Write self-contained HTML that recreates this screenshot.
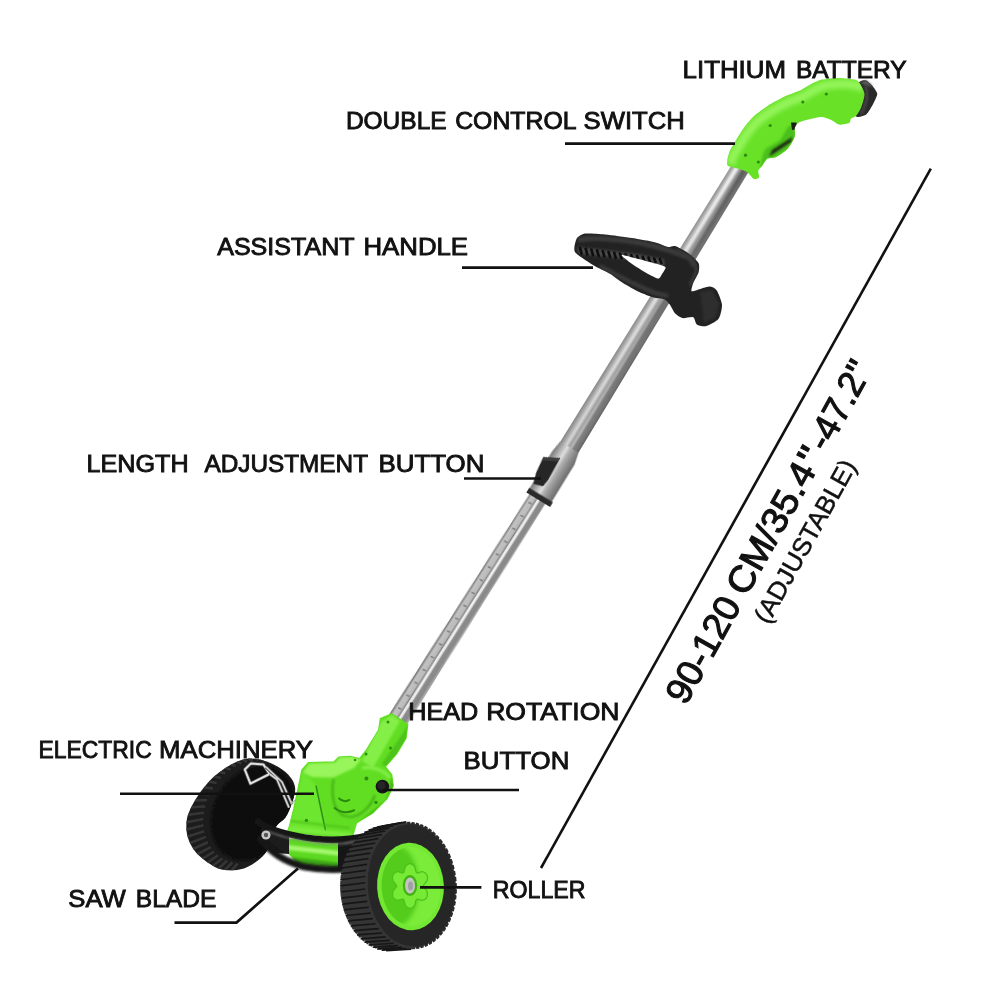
<!DOCTYPE html>
<html><head><meta charset="utf-8"><title>Grass trimmer parts</title>
<style>
html,body{margin:0;padding:0;background:#fff;}
body{width:1000px;height:1000px;overflow:hidden;}
svg{display:block;}
.lbl{font-family:"Liberation Sans","DejaVu Sans",sans-serif;font-size:24.5px;fill:#111;stroke:#111;stroke-width:0.9px;}
.big{font-family:"Liberation Sans","DejaVu Sans",sans-serif;font-size:36.5px;fill:#111;stroke:#111;stroke-width:1.1px;}
.adj{font-family:"Liberation Sans","DejaVu Sans",sans-serif;font-size:25.5px;fill:#111;stroke:#111;stroke-width:0.5px;}
.ln{stroke:#111;stroke-width:2.6;fill:none;}
</style></head>
<body>
<svg width="1000" height="1000" viewBox="0 0 1000 1000">
<defs>
<linearGradient id="steel" gradientUnits="objectBoundingBox" x1="0" y1="1" x2="0" y2="0">
<stop offset="0" stop-color="#858585"/><stop offset="0.12" stop-color="#9c9c9c"/><stop offset="0.34" stop-color="#d6d6d6"/><stop offset="0.48" stop-color="#a2a2a2"/><stop offset="0.6" stop-color="#b6b6b6"/><stop offset="0.7" stop-color="#828282"/><stop offset="0.9" stop-color="#727272"/><stop offset="1" stop-color="#5e5e5e"/>
</linearGradient>
<linearGradient id="steel2" gradientUnits="objectBoundingBox" x1="0" y1="1" x2="0" y2="0">
<stop offset="0" stop-color="#626262"/><stop offset="0.07" stop-color="#8e8e8e"/><stop offset="0.14" stop-color="#c2c2c2"/><stop offset="0.38" stop-color="#bababa"/><stop offset="0.45" stop-color="#7a7a7a"/><stop offset="0.51" stop-color="#f2f2f2"/><stop offset="0.59" stop-color="#ececec"/><stop offset="0.66" stop-color="#8c8c8c"/><stop offset="0.86" stop-color="#888"/><stop offset="0.95" stop-color="#a6a6a6"/><stop offset="1" stop-color="#808080"/>
</linearGradient>
<linearGradient id="steel3" gradientUnits="objectBoundingBox" x1="0" y1="1" x2="0" y2="0">
<stop offset="0" stop-color="#777"/><stop offset="0.2" stop-color="#a8a8a8"/><stop offset="0.42" stop-color="#dedede"/><stop offset="0.55" stop-color="#b0b0b0"/><stop offset="0.75" stop-color="#8e8e8e"/><stop offset="1" stop-color="#6a6a6a"/>
</linearGradient>
<linearGradient id="fade" gradientUnits="userSpaceOnUse" x1="0" y1="0" x2="300" y2="0"><stop offset="0" stop-color="#4e4e4e" stop-opacity="0.7"/><stop offset="0.5" stop-color="#4e4e4e" stop-opacity="0.3"/><stop offset="1" stop-color="#4e4e4e" stop-opacity="0"/></linearGradient>
<linearGradient id="fadew" gradientUnits="userSpaceOnUse" x1="0" y1="0" x2="300" y2="0"><stop offset="0" stop-color="#fff" stop-opacity="0.75"/><stop offset="0.5" stop-color="#fff" stop-opacity="0.3"/><stop offset="1" stop-color="#fff" stop-opacity="0"/></linearGradient>
<filter id="b1" x="-20%" y="-20%" width="140%" height="140%"><feGaussianBlur stdDeviation="1"/></filter>
<filter id="b2" x="-20%" y="-20%" width="140%" height="140%"><feGaussianBlur stdDeviation="2"/></filter>
<filter id="b3" x="-30%" y="-30%" width="160%" height="160%"><feGaussianBlur stdDeviation="3.5"/></filter>
<filter id="soft" x="-5%" y="-5%" width="110%" height="110%"><feGaussianBlur stdDeviation="0.45"/></filter>
</defs>
<rect width="1000" height="1000" fill="#fff"/>
<g id="product" filter="url(#soft)">

<g id="shaft" transform="translate(738.6,171) rotate(121.5)">
<polygon points="-6,-9 334,-10.7 334,10.7 -6,9" fill="url(#steel)"/>
<polygon points="-6,-6.5 300,-7.5 300,-1 -6,-1" fill="url(#fade)" filter="url(#b1)"/>
<polygon points="-6,1.5 300,1.5 300,5 -6,4.5" fill="url(#fadew)" filter="url(#b1)"/>
<g transform="rotate(0.9 380 0)">
<polygon points="378,-9.2 650,-10.4 650,9.8 378,9.2" fill="url(#steel2)"/>
<line x1="392.0" y1="2.2" x2="392.5" y2="5.8" stroke="#6e6e6e" stroke-width="1.2"/>
<line x1="407.2" y1="2.2" x2="407.7" y2="5.8" stroke="#6e6e6e" stroke-width="1.2"/>
<line x1="422.4" y1="2.2" x2="422.9" y2="5.8" stroke="#6e6e6e" stroke-width="1.2"/>
<line x1="437.6" y1="2.2" x2="438.1" y2="5.8" stroke="#6e6e6e" stroke-width="1.2"/>
<line x1="452.8" y1="2.2" x2="453.3" y2="5.8" stroke="#6e6e6e" stroke-width="1.2"/>
<line x1="468.0" y1="2.2" x2="468.5" y2="5.8" stroke="#6e6e6e" stroke-width="1.2"/>
<line x1="483.2" y1="2.2" x2="483.7" y2="5.8" stroke="#6e6e6e" stroke-width="1.2"/>
<line x1="498.4" y1="2.2" x2="498.9" y2="5.8" stroke="#6e6e6e" stroke-width="1.2"/>
<line x1="513.6" y1="2.2" x2="514.1" y2="5.8" stroke="#6e6e6e" stroke-width="1.2"/>
<line x1="528.8" y1="2.2" x2="529.3" y2="5.8" stroke="#6e6e6e" stroke-width="1.2"/>
<line x1="544.0" y1="2.2" x2="544.5" y2="5.8" stroke="#6e6e6e" stroke-width="1.2"/>
<line x1="559.2" y1="2.2" x2="559.7" y2="5.8" stroke="#6e6e6e" stroke-width="1.2"/>
<line x1="574.4" y1="2.2" x2="574.9" y2="5.8" stroke="#6e6e6e" stroke-width="1.2"/>
<line x1="589.6" y1="2.2" x2="590.1" y2="5.8" stroke="#6e6e6e" stroke-width="1.2"/>
<line x1="604.8" y1="2.2" x2="605.3" y2="5.8" stroke="#6e6e6e" stroke-width="1.2"/>
<line x1="620.0" y1="2.2" x2="620.5" y2="5.8" stroke="#6e6e6e" stroke-width="1.2"/>
<line x1="635.2" y1="2.2" x2="635.7" y2="5.8" stroke="#6e6e6e" stroke-width="1.2"/>
</g>
<polygon points="324,-10.7 336,-13.6 381,-13.6 381,12.4 336,12.4 324,10.7" fill="url(#steel3)"/>
<polygon points="379.5,-14.8 385,-14.8 385,13 379.5,13" fill="#2c2c2c"/>
<polygon points="346,17 338,2 363,1 371,2 374,11.5 363,15" fill="#262626"/>
<polygon points="346,17 338,2 342,2 349,15.5" fill="#3c3c3c"/>
</g>
<g id="backwheel">
<path d="M186.4,823.6 C186.7,819.1 187.2,816.1 189.6,810.8 C192.0,805.5 196.5,797.5 200.8,791.6 C205.1,785.7 210.1,780.1 215.2,775.6 C220.3,771.1 225.9,767.2 231.2,764.4 C236.5,761.6 241.9,759.5 247.2,758.8 C252.5,758.1 257.9,758.9 263.2,760.4 C268.5,761.9 274.7,764.8 279.2,767.6 C283.7,770.4 287.7,773.7 290.4,777.2 C293.1,780.7 294.9,784.1 295.2,788.4 C295.5,792.7 293.6,798.0 292.0,802.8 C290.4,807.6 288.3,813.2 285.6,817.2 C282.9,821.2 278.7,822.0 276.0,826.8 C273.3,831.6 272.3,840.7 269.6,846.0 C266.9,851.3 264.3,855.1 260.0,858.8 C255.7,862.5 249.9,866.5 244.0,868.4 C238.1,870.3 230.1,870.5 224.8,870.0 C219.5,869.5 216.8,868.1 212.0,865.2 C207.2,862.3 200.0,856.9 196.0,852.4 C192.0,847.9 189.6,842.8 188.0,838.0 C186.4,833.2 186.1,828.1 186.4,823.6 Z" fill="#1b1b1b"/>
<clipPath id="bwclip"><path d="M186.4,823.6 C186.7,819.1 187.2,816.1 189.6,810.8 C192.0,805.5 196.5,797.5 200.8,791.6 C205.1,785.7 210.1,780.1 215.2,775.6 C220.3,771.1 225.9,767.2 231.2,764.4 C236.5,761.6 241.9,759.5 247.2,758.8 C252.5,758.1 257.9,758.9 263.2,760.4 C268.5,761.9 274.7,764.8 279.2,767.6 C283.7,770.4 287.7,773.7 290.4,777.2 C293.1,780.7 294.9,784.1 295.2,788.4 C295.5,792.7 293.6,798.0 292.0,802.8 C290.4,807.6 288.3,813.2 285.6,817.2 C282.9,821.2 278.7,822.0 276.0,826.8 C273.3,831.6 272.3,840.7 269.6,846.0 C266.9,851.3 264.3,855.1 260.0,858.8 C255.7,862.5 249.9,866.5 244.0,868.4 C238.1,870.3 230.1,870.5 224.8,870.0 C219.5,869.5 216.8,868.1 212.0,865.2 C207.2,862.3 200.0,856.9 196.0,852.4 C192.0,847.9 189.6,842.8 188.0,838.0 C186.4,833.2 186.1,828.1 186.4,823.6 Z"/></clipPath>
<g clip-path="url(#bwclip)">
<line x1="223.6" y1="879.3" x2="237.7" y2="863.5" stroke="#363636" stroke-width="2.6"/>
<line x1="216.8" y1="878.0" x2="232.3" y2="862.5" stroke="#363636" stroke-width="2.6"/>
<line x1="210.3" y1="875.8" x2="227.1" y2="860.8" stroke="#363636" stroke-width="2.6"/>
<line x1="204.2" y1="872.7" x2="222.3" y2="858.4" stroke="#363636" stroke-width="2.6"/>
<line x1="198.6" y1="868.7" x2="218.0" y2="855.2" stroke="#363636" stroke-width="2.6"/>
<line x1="193.6" y1="864.0" x2="214.1" y2="851.5" stroke="#363636" stroke-width="2.6"/>
<line x1="189.2" y1="858.5" x2="210.7" y2="847.1" stroke="#363636" stroke-width="2.6"/>
<line x1="185.6" y1="852.4" x2="207.9" y2="842.2" stroke="#363636" stroke-width="2.6"/>
<line x1="182.8" y1="845.8" x2="205.8" y2="836.9" stroke="#363636" stroke-width="2.6"/>
<line x1="180.8" y1="838.7" x2="204.3" y2="831.2" stroke="#363636" stroke-width="2.6"/>
<line x1="179.6" y1="831.3" x2="203.5" y2="825.2" stroke="#363636" stroke-width="2.6"/>
<line x1="179.4" y1="823.6" x2="203.3" y2="819.0" stroke="#363636" stroke-width="2.6"/>
<line x1="179.9" y1="815.9" x2="203.9" y2="812.7" stroke="#363636" stroke-width="2.6"/>
<line x1="181.4" y1="808.1" x2="205.2" y2="806.4" stroke="#363636" stroke-width="2.6"/>
<line x1="183.7" y1="800.5" x2="207.1" y2="800.2" stroke="#363636" stroke-width="2.6"/>
<line x1="186.8" y1="793.1" x2="209.7" y2="794.2" stroke="#363636" stroke-width="2.6"/>
<line x1="190.7" y1="786.0" x2="212.9" y2="788.4" stroke="#363636" stroke-width="2.6"/>
<line x1="195.3" y1="779.4" x2="216.6" y2="783.0" stroke="#363636" stroke-width="2.6"/>
<line x1="200.5" y1="773.3" x2="220.8" y2="778.0" stroke="#363636" stroke-width="2.6"/>
<line x1="206.3" y1="767.9" x2="225.5" y2="773.5" stroke="#363636" stroke-width="2.6"/>
<line x1="212.5" y1="763.2" x2="230.5" y2="769.6" stroke="#363636" stroke-width="2.6"/>
<line x1="219.1" y1="759.2" x2="235.8" y2="766.3" stroke="#363636" stroke-width="2.6"/>
<line x1="226.0" y1="756.2" x2="241.3" y2="763.7" stroke="#363636" stroke-width="2.6"/>
<line x1="233.1" y1="754.0" x2="247.0" y2="761.8" stroke="#363636" stroke-width="2.6"/>
<line x1="240.3" y1="752.7" x2="252.7" y2="760.7" stroke="#363636" stroke-width="2.6"/>
<line x1="247.4" y1="752.4" x2="258.4" y2="760.3" stroke="#363636" stroke-width="2.6"/>
<line x1="254.4" y1="753.0" x2="263.9" y2="760.7" stroke="#363636" stroke-width="2.6"/>
<line x1="261.1" y1="754.5" x2="269.2" y2="761.9" stroke="#363636" stroke-width="2.6"/>
<line x1="267.5" y1="757.0" x2="274.3" y2="763.8" stroke="#363636" stroke-width="2.6"/>
<line x1="273.5" y1="760.4" x2="279.0" y2="766.5" stroke="#363636" stroke-width="2.6"/>
<ellipse cx="253" cy="813" rx="39" ry="50" transform="rotate(30 253 813)" fill="#0b0b0b" filter="url(#b1)"/>
</g>
<path d="M244.8,769.5 L250.4,783.6 L269.6,774 L263.5,764.6 L251,763.4 Z" fill="none" stroke="#4a4a4a" stroke-width="3.6" stroke-linejoin="round"/>
<path d="M244.8,769.5 L250.4,783.6 L269.6,774 L263.5,764.6 L251,763.4 Z" fill="none" stroke="#e2e2e2" stroke-width="2" stroke-linejoin="round"/>
<path d="M269.6,774 L277,779.5 L289,807.6 M266,767 L282,782 L292,804.4" fill="none" stroke="#4a4a4a" stroke-width="3.2" stroke-linejoin="round"/>
<path d="M269.6,774 L277,779.5 L289,807.6 M266,767 L282,782 L292,804.4" fill="none" stroke="#d4d4d4" stroke-width="1.7" stroke-linejoin="round"/>
<path d="M291,803.5 L314,785.5" fill="none" stroke="#a9b49a" stroke-width="1.4"/>
</g>
<g id="head">
<clipPath id="headclip"><path d="M380.4,718.8 L391.6,714.0 L407.6,724.4 L406.0,738.0 L396.4,754.0 L385.2,766.8 L391.6,774.8 L393.2,786.0 L386.8,798.8 L372.4,813.2 L356.4,822.8 L352.4,836.4 L326.0,836.0 L287.6,831.6 L289.2,827.6 L294.0,808.4 L298.8,786.0 L302.0,770.0 L308.4,762.8 L334.0,762.0 L338.8,757.2 L350.0,756.4 L359.6,758.8 L366.0,750.8 L378.8,730.0 Z"/></clipPath>
<path d="M380.4,718.8 L391.6,714.0 L407.6,724.4 L406.0,738.0 L396.4,754.0 L385.2,766.8 L391.6,774.8 L393.2,786.0 L386.8,798.8 L372.4,813.2 L356.4,822.8 L352.4,836.4 L326.0,836.0 L287.6,831.6 L289.2,827.6 L294.0,808.4 L298.8,786.0 L302.0,770.0 L308.4,762.8 L334.0,762.0 L338.8,757.2 L350.0,756.4 L359.6,758.8 L366.0,750.8 L378.8,730.0 Z" fill="#62de24" stroke="#62de24" stroke-width="1.5" stroke-linejoin="round"/>
<g clip-path="url(#headclip)">
<path d="M303,772 L316,785 L326,832 L288,828 Z" fill="#6ce62e" filter="url(#b1)"/>
<path d="M303,772.5 L309,763.4 L335,762.8 L340,757.5 L352,756.5 L361,759.5 L354,768 L333,777.5 L312,777 Z" fill="#98f65c" filter="url(#b1)"/>
<path d="M381,722 L392,715 L400,721 L373,768 L362,761 Z" fill="#84ef46" filter="url(#b1)"/>
<path d="M408.5,724.4 L407,738 L397.4,754 L386.2,766.8 L381.5,764 L401,736 Z" fill="#4dc31a" filter="url(#b1)"/>
<path d="M356,824 L373,814 L388,799.5 L394.5,786 L392.5,775 L386,800 L366,816 Z" fill="#46b716" filter="url(#b1)"/>
<path d="M362,768 C372,766 384,770 390,778" fill="none" stroke="#86ef4a" stroke-width="3" filter="url(#b1)"/>
<path d="M333.5,779 C330,800 336,817 350,817 C362,816 371,806 375,795" fill="none" stroke="#43b018" stroke-width="2.2" filter="url(#b1)"/>
<path d="M338.5,798 Q344,803.5 350,799.5" fill="none" stroke="#2b8a0e" stroke-width="2"/>
<path d="M334,807.5 Q344,815.5 354.8,810" fill="none" stroke="#2b8a0e" stroke-width="2"/>
<path d="M316,785.6 L325.6,831" fill="none" stroke="#2f8d12" stroke-width="1.5"/>
<path d="M287,826 L352,833 L352,837 L287,831.5 Z" fill="#7aec3c" filter="url(#b1)"/>
<path d="M290,821 L350,828" fill="none" stroke="#49bb1a" stroke-width="1.6" filter="url(#b1)"/>
</g>
<circle cx="382.4" cy="786.6" r="6.8" fill="#161616"/>
<circle cx="381.4" cy="785.6" r="4" fill="#262626"/>
<circle cx="388.0" cy="722.0" r="1.5" fill="#2f8f10"/>
<circle cx="390.5" cy="748.0" r="1.5" fill="#2f8f10"/>
<circle cx="366.0" cy="754.0" r="1.5" fill="#2f8f10"/>
<circle cx="306.4" cy="820.4" r="1.7" fill="#2f8f10"/>
<circle cx="366.4" cy="778.4" r="2.0" fill="#2f8f10"/>
<circle cx="376.0" cy="802.4" r="1.7" fill="#2f8f10"/>
<circle cx="355.0" cy="760.0" r="1.3" fill="#2f8f10"/>
</g>
<g id="bracket">
<path d="M286,838 L342,843 L342,868 L300,864 L287,853 Z" fill="#5bd820"/>
<path d="M288,845 L341,851 L341,856 L288,850 Z" fill="#a4f76e" filter="url(#b1)"/>
<path d="M290,857 L341,863 L341,869 L298,865 Z" fill="#3aa012" filter="url(#b1)"/>
<path d="M262,826 L289,836 L289,854 L275,853 L259,842 Z" fill="#1a1a1a"/>
<path d="M338,840 L368,835 L362,850 L350,868 L338,871 Z" fill="#181818"/>
<path d="M258,821.5 C270,831 290,835.5 314,838.8 C330,840.8 348,840.3 368,835.5" fill="none" stroke="#161616" stroke-width="6.6" stroke-linecap="round"/>
<path d="M268,831 C280,837 296,840 316,843 C332,845 346,844 358,841" fill="none" stroke="#8a8a8a" stroke-width="1.3" filter="url(#b1)"/>
<path d="M261,839 C270,852 286,862 304,866.8 C318,869.5 334,870.5 350,868.5" fill="none" stroke="#161616" stroke-width="7" stroke-linecap="round" filter="url(#b1)"/>
<circle cx="266" cy="835" r="4.6" fill="#c9c9c9"/><circle cx="266" cy="835" r="2.2" fill="#555"/>
</g>
<g id="frontwheel">
<path d="M455.4,882.4 L456.8,883.3 L456.9,887.2 L455.6,887.8 L455.6,888.5 L456.9,889.6 L456.8,893.4 L455.4,893.9 L455.4,894.5 L456.6,895.8 L456.2,899.6 L454.8,899.8 L454.8,900.5 L455.9,901.9 L455.2,905.6 L453.8,905.7 L453.7,906.3 L454.7,907.8 L453.8,911.4 L452.4,911.3 L452.2,911.9 L453.1,913.6 L451.9,917.0 L450.6,916.7 L450.3,917.3 L451.1,919.1 L449.7,922.3 L448.3,921.8 L448.1,922.3 L448.7,924.2 L447.1,927.2 L445.8,926.5 L445.5,927.0 L446.0,929.0 L444.1,931.7 L442.9,930.9 L442.5,931.4 L442.9,933.3 L440.8,935.8 L439.6,934.8 L439.3,935.2 L439.5,937.2 L437.3,939.4 L436.2,938.2 L435.7,938.6 L435.9,940.6 L433.5,942.5 L432.4,941.2 L432.0,941.5 L432.0,943.5 L429.4,945.0 L428.5,943.6 L428.0,943.8 L427.9,945.8 L425.2,947.0 L424.4,945.4 L423.9,945.6 L423.6,947.5 L420.9,948.3 L420.1,946.7 L419.7,946.8 L419.2,948.7 L416.4,949.1 L415.8,947.3 L415.3,947.4 L414.7,949.2 L411.9,949.2 L411.4,947.4 L411.0,947.4 L410.2,949.1 L407.4,948.7 L407.1,946.9 L406.6,946.8 L405.7,948.4 L403.0,947.6 L402.7,945.8 L402.2,945.6 L401.3,947.1 L398.6,946.0 L398.5,944.1 L398.0,943.8 L396.9,945.2 L394.3,943.7 L394.3,941.8 L393.9,941.5 L392.7,942.7 L390.2,940.9 L390.4,939.0 L389.9,938.7 L388.7,939.7 L386.3,937.5 L386.6,935.7 L386.2,935.3 L384.9,936.1 L382.6,933.7 L383.0,931.9 L382.7,931.4 L381.3,932.1 L379.2,929.3 L379.8,927.6 L379.4,927.1 L378.0,927.6 L376.1,924.6 L376.8,923.0 L376.5,922.5 L375.0,922.7 L373.4,919.5 L374.1,918.0 L373.9,917.4 L372.4,917.5 L371.0,914.0 L371.9,912.7 L371.6,912.0 L370.2,911.9 L369.0,908.3 L369.9,907.1 L369.8,906.4 L368.3,906.1 L367.4,902.4 L368.4,901.3 L368.3,900.6 L366.9,900.1 L366.2,896.3 L367.3,895.3 L367.2,894.7 L365.8,893.9 L365.4,890.1 L366.6,889.3 L366.6,888.6 L365.2,887.7 L365.1,883.8 L366.4,883.2 L366.4,882.5 L365.1,881.4 L365.2,877.6 L366.6,877.1 L366.6,876.5 L365.4,875.2 L365.8,871.4 L367.2,871.2 L367.2,870.5 L366.1,869.1 L366.8,865.4 L368.2,865.3 L368.3,864.7 L367.3,863.2 L368.2,859.6 L369.6,859.7 L369.8,859.1 L368.9,857.4 L370.1,854.0 L371.4,854.3 L371.7,853.7 L370.9,851.9 L372.3,848.7 L373.7,849.2 L373.9,848.7 L373.3,846.8 L374.9,843.8 L376.2,844.5 L376.5,844.0 L376.0,842.0 L377.9,839.3 L379.1,840.1 L379.5,839.6 L379.1,837.7 L381.2,835.2 L382.4,836.2 L382.7,835.8 L382.5,833.8 L384.7,831.6 L385.8,832.8 L386.3,832.4 L386.1,830.4 L388.5,828.5 L389.6,829.8 L390.0,829.5 L390.0,827.5 L392.6,826.0 L393.5,827.4 L394.0,827.2 L394.1,825.2 L396.8,824.0 L397.6,825.6 L398.1,825.4 L398.4,823.5 L401.1,822.7 L401.9,824.3 L402.3,824.2 L402.8,822.3 L405.6,821.9 L406.2,823.7 L406.7,823.6 L407.3,821.8 L410.1,821.8 L410.6,823.6 L411.0,823.6 L411.8,821.9 L414.6,822.3 L414.9,824.1 L415.4,824.2 L416.3,822.6 L419.0,823.4 L419.3,825.2 L419.8,825.4 L420.7,823.9 L423.4,825.0 L423.5,826.9 L424.0,827.2 L425.1,825.8 L427.7,827.3 L427.7,829.2 L428.1,829.5 L429.3,828.3 L431.8,830.1 L431.6,832.0 L432.1,832.3 L433.3,831.3 L435.7,833.5 L435.4,835.3 L435.8,835.7 L437.1,834.9 L439.4,837.3 L439.0,839.1 L439.3,839.6 L440.7,838.9 L442.8,841.7 L442.2,843.4 L442.6,843.9 L444.0,843.4 L445.9,846.4 L445.2,848.0 L445.5,848.5 L447.0,848.3 L448.6,851.5 L447.9,853.0 L448.1,853.6 L449.6,853.5 L451.0,857.0 L450.1,858.3 L450.4,859.0 L451.8,859.1 L453.0,862.7 L452.1,863.9 L452.2,864.6 L453.7,864.9 L454.6,868.6 L453.6,869.7 L453.7,870.4 L455.1,870.9 L455.8,874.7 L454.7,875.7 L454.8,876.3 L456.2,877.1 L456.6,880.9 L455.4,881.7 Z" fill="#2c2c2c"/>
<path d="M430.4,885.4 L431.8,886.3 L431.9,890.1 L430.6,890.7 L430.6,891.3 L431.9,892.4 L431.7,896.2 L430.4,896.6 L430.4,897.2 L431.6,898.5 L431.2,902.2 L429.8,902.4 L429.7,903.1 L430.8,904.4 L430.2,908.1 L428.8,908.1 L428.6,908.7 L429.7,910.2 L428.7,913.8 L427.3,913.6 L427.2,914.2 L428.1,915.9 L426.9,919.2 L425.5,918.9 L425.3,919.5 L426.1,921.2 L424.6,924.4 L423.3,923.9 L423.0,924.4 L423.7,926.2 L422.0,929.2 L420.7,928.5 L420.4,929.0 L420.9,930.9 L419.0,933.6 L417.8,932.8 L417.4,933.2 L417.8,935.2 L415.8,937.6 L414.6,936.6 L414.2,937.0 L414.4,939.0 L412.2,941.1 L411.1,940.0 L410.7,940.3 L410.8,942.3 L408.4,944.1 L407.3,942.8 L406.9,943.1 L406.9,945.1 L404.3,946.6 L403.4,945.2 L402.9,945.4 L402.8,947.4 L400.1,948.5 L399.3,947.0 L398.8,947.1 L398.5,949.1 L395.8,949.8 L395.0,948.2 L394.6,948.3 L394.1,950.2 L391.3,950.6 L390.7,948.9 L390.2,948.9 L389.6,950.7 L386.8,950.7 L386.3,948.9 L385.9,948.9 L385.1,950.6 L382.3,950.3 L382.0,948.4 L381.5,948.4 L380.6,949.9 L377.9,949.2 L377.6,947.4 L377.2,947.2 L376.2,948.7 L373.5,947.6 L373.4,945.7 L372.9,945.5 L371.8,946.8 L369.2,945.4 L369.2,943.5 L368.8,943.2 L367.6,944.4 L365.1,942.6 L365.3,940.8 L364.8,940.5 L363.6,941.4 L361.2,939.3 L361.5,937.6 L361.1,937.2 L359.8,938.0 L357.5,935.6 L358.0,933.9 L357.6,933.4 L356.2,934.0 L354.1,931.4 L354.7,929.7 L354.4,929.2 L352.9,929.7 L351.1,926.7 L351.7,925.2 L351.4,924.6 L350.0,924.9 L348.3,921.7 L349.1,920.3 L348.8,919.7 L347.4,919.8 L345.9,916.4 L346.8,915.1 L346.6,914.5 L345.1,914.3 L343.9,910.8 L344.9,909.6 L344.7,909.0 L343.3,908.7 L342.3,905.0 L343.4,904.0 L343.3,903.3 L341.8,902.8 L341.2,899.1 L342.3,898.2 L342.2,897.5 L340.8,896.8 L340.4,893.0 L341.6,892.3 L341.6,891.6 L340.2,890.7 L340.1,886.9 L341.4,886.3 L341.4,885.7 L340.1,884.6 L340.3,880.8 L341.6,880.4 L341.6,879.8 L340.4,878.5 L340.8,874.8 L342.2,874.6 L342.3,873.9 L341.2,872.6 L341.8,868.9 L343.2,868.9 L343.4,868.3 L342.3,866.8 L343.3,863.2 L344.7,863.4 L344.8,862.8 L343.9,861.1 L345.1,857.8 L346.5,858.1 L346.7,857.5 L345.9,855.8 L347.4,852.6 L348.7,853.1 L349.0,852.6 L348.3,850.8 L350.0,847.8 L351.3,848.5 L351.6,848.0 L351.1,846.1 L353.0,843.4 L354.2,844.2 L354.6,843.8 L354.2,841.8 L356.2,839.4 L357.4,840.4 L357.8,840.0 L357.6,838.0 L359.8,835.9 L360.9,837.0 L361.3,836.7 L361.2,834.7 L363.6,832.9 L364.7,834.2 L365.1,833.9 L365.1,831.9 L367.7,830.4 L368.6,831.8 L369.1,831.6 L369.2,829.6 L371.9,828.5 L372.7,830.0 L373.2,829.9 L373.5,827.9 L376.2,827.2 L377.0,828.8 L377.4,828.7 L377.9,826.8 L380.7,826.4 L381.3,828.1 L381.8,828.1 L382.4,826.3 L385.2,826.3 L385.7,828.1 L386.1,828.1 L386.9,826.4 L389.7,826.7 L390.0,828.6 L390.5,828.6 L391.4,827.1 L394.1,827.8 L394.4,829.6 L394.8,829.8 L395.8,828.3 L398.5,829.4 L398.6,831.3 L399.1,831.5 L400.2,830.2 L402.8,831.6 L402.8,833.5 L403.2,833.8 L404.4,832.6 L406.9,834.4 L406.7,836.2 L407.2,836.5 L408.4,835.6 L410.8,837.7 L410.5,839.4 L410.9,839.8 L412.2,839.0 L414.5,841.4 L414.0,843.1 L414.4,843.6 L415.8,843.0 L417.9,845.6 L417.3,847.3 L417.6,847.8 L419.1,847.3 L420.9,850.3 L420.3,851.8 L420.6,852.4 L422.0,852.1 L423.7,855.3 L422.9,856.7 L423.2,857.3 L424.6,857.2 L426.1,860.6 L425.2,861.9 L425.4,862.5 L426.9,862.7 L428.1,866.2 L427.1,867.4 L427.3,868.0 L428.7,868.3 L429.7,872.0 L428.6,873.0 L428.7,873.7 L430.2,874.2 L430.8,877.9 L429.7,878.8 L429.8,879.5 L431.2,880.2 L431.6,884.0 L430.4,884.7 Z" fill="#343434"/>
<path d="M406.6,822.2 L381.7,826.7 L390.3,950.3 L415.4,948.8 Z" fill="#343434"/>
<line x1="386.1" y1="950.7" x2="411.2" y2="949.2" stroke="#171717" stroke-width="1.6"/>
<line x1="381.6" y1="950.1" x2="406.7" y2="948.6" stroke="#171717" stroke-width="1.6"/>
<line x1="377.1" y1="949.0" x2="402.2" y2="947.4" stroke="#171717" stroke-width="1.6"/>
<line x1="372.8" y1="947.2" x2="397.9" y2="945.6" stroke="#171717" stroke-width="1.6"/>
<line x1="368.5" y1="945.0" x2="393.6" y2="943.3" stroke="#171717" stroke-width="1.6"/>
<line x1="364.4" y1="942.1" x2="389.5" y2="940.4" stroke="#171717" stroke-width="1.6"/>
<line x1="360.6" y1="938.8" x2="385.7" y2="936.9" stroke="#171717" stroke-width="1.6"/>
<line x1="357.0" y1="934.9" x2="382.0" y2="933.0" stroke="#171717" stroke-width="1.6"/>
<line x1="353.6" y1="930.6" x2="378.7" y2="928.6" stroke="#171717" stroke-width="1.6"/>
<line x1="350.6" y1="925.9" x2="375.6" y2="923.8" stroke="#171717" stroke-width="1.6"/>
<line x1="347.9" y1="920.9" x2="372.9" y2="918.6" stroke="#171717" stroke-width="1.6"/>
<line x1="345.6" y1="915.5" x2="370.6" y2="913.1" stroke="#171717" stroke-width="1.6"/>
<line x1="343.6" y1="909.9" x2="368.7" y2="907.3" stroke="#171717" stroke-width="1.6"/>
<line x1="342.1" y1="904.1" x2="367.1" y2="901.4" stroke="#171717" stroke-width="1.6"/>
<line x1="341.0" y1="898.1" x2="366.0" y2="895.2" stroke="#171717" stroke-width="1.6"/>
<line x1="340.3" y1="892.0" x2="365.3" y2="889.0" stroke="#171717" stroke-width="1.6"/>
<line x1="340.1" y1="885.9" x2="365.1" y2="882.8" stroke="#171717" stroke-width="1.6"/>
<line x1="340.3" y1="879.8" x2="365.3" y2="876.5" stroke="#171717" stroke-width="1.6"/>
<line x1="341.0" y1="873.8" x2="365.9" y2="870.4" stroke="#171717" stroke-width="1.6"/>
<line x1="342.1" y1="868.0" x2="367.0" y2="864.4" stroke="#171717" stroke-width="1.6"/>
<line x1="343.6" y1="862.3" x2="368.5" y2="858.6" stroke="#171717" stroke-width="1.6"/>
<line x1="345.5" y1="856.9" x2="370.4" y2="853.1" stroke="#171717" stroke-width="1.6"/>
<line x1="347.8" y1="851.8" x2="372.7" y2="847.9" stroke="#171717" stroke-width="1.6"/>
<line x1="350.5" y1="847.1" x2="375.4" y2="843.0" stroke="#171717" stroke-width="1.6"/>
<line x1="353.5" y1="842.7" x2="378.4" y2="838.6" stroke="#171717" stroke-width="1.6"/>
<line x1="356.8" y1="838.8" x2="381.7" y2="834.6" stroke="#171717" stroke-width="1.6"/>
<line x1="360.4" y1="835.4" x2="385.3" y2="831.0" stroke="#171717" stroke-width="1.6"/>
<line x1="364.3" y1="832.4" x2="389.2" y2="828.1" stroke="#171717" stroke-width="1.6"/>
<line x1="368.4" y1="830.1" x2="393.3" y2="825.6" stroke="#171717" stroke-width="1.6"/>
<line x1="372.6" y1="828.2" x2="397.5" y2="823.8" stroke="#171717" stroke-width="1.6"/>
<line x1="377.0" y1="827.0" x2="401.9" y2="822.5" stroke="#171717" stroke-width="1.6"/>
<line x1="381.4" y1="826.4" x2="406.3" y2="821.9" stroke="#171717" stroke-width="1.6"/>
<ellipse cx="411" cy="885.5" rx="43.2" ry="61" transform="rotate(-4 411 885.5)" fill="#272727"/>
<ellipse cx="410.5" cy="886.5" rx="33.4" ry="43.8" transform="rotate(-3 410.5 886.5)" fill="#72e830"/>
<clipPath id="hubclip"><ellipse cx="411" cy="886.5" rx="29.5" ry="39.5" transform="rotate(-3 411 886.5)"/></clipPath>
<ellipse cx="411" cy="886.5" rx="29.5" ry="39.5" transform="rotate(-3 411 886.5)" fill="#7bec3a"/>
<g clip-path="url(#hubclip)">
<ellipse cx="397" cy="886" rx="22" ry="40" fill="#52cc1e" filter="url(#b2)"/>
</g>
<path d="M410.0,863.5 C411.5,863.5 413.4,864.9 414.5,866.4 C415.6,868.0 415.3,871.9 416.6,872.7 C417.9,873.6 420.7,871.3 422.4,871.7 C424.1,872.0 426.1,873.2 426.9,874.8 C427.6,876.3 427.6,878.9 427.0,880.8 C426.3,882.6 423.3,884.3 423.3,886.0 C423.3,887.7 426.3,889.4 427.0,891.2 C427.6,893.1 427.6,895.7 426.9,897.2 C426.1,898.8 424.1,900.0 422.4,900.3 C420.7,900.7 417.9,898.4 416.6,899.3 C415.3,900.1 415.6,904.0 414.5,905.6 C413.4,907.1 411.5,908.5 410.0,908.5 C408.5,908.5 406.6,907.1 405.5,905.6 C404.4,904.0 404.7,900.1 403.4,899.3 C402.1,898.4 399.3,900.7 397.6,900.3 C395.9,900.0 393.9,898.8 393.1,897.2 C392.4,895.7 392.4,893.1 393.0,891.2 C393.7,889.4 396.7,887.7 396.7,886.0 C396.7,884.3 393.7,882.6 393.0,880.8 C392.4,878.9 392.4,876.3 393.1,874.8 C393.9,873.2 395.9,872.0 397.6,871.7 C399.3,871.3 402.1,873.6 403.4,872.7 C404.7,871.9 404.4,868.0 405.5,866.4 C406.6,864.9 408.5,863.5 410.0,863.5 Z" fill="#76ea36" stroke="#4cc21a" stroke-width="1.3" stroke-linejoin="round"/>
<ellipse cx="410" cy="885.5" rx="7.2" ry="10.5" fill="#44b016"/>
<ellipse cx="410" cy="885.5" rx="5" ry="8" fill="#c4c4c4"/>
<ellipse cx="410.5" cy="886" rx="2.5" ry="4.5" fill="#a0a0a0"/>
</g>
<g id="aux">
<clipPath id="auxclip"><path d="M574.4,247.0 C574.6,245.3 575.8,239.6 577.1,238.0 C578.4,236.4 581.9,233.9 585.2,233.5 C588.5,233.1 599.5,233.9 605.0,234.4 C610.5,234.9 626.1,237.1 632.0,238.0 C637.9,238.9 651.2,241.4 655.4,242.5 C659.6,243.6 665.7,246.6 668.0,247.0 C670.3,247.4 672.7,245.3 675.2,246.1 C677.7,246.9 686.9,252.2 689.6,254.2 C692.3,256.2 697.6,261.1 698.6,263.2 C699.6,265.3 699.2,269.9 698.6,272.2 C698.0,274.5 694.0,280.8 693.2,283.0 C692.4,285.2 691.0,290.2 691.4,291.0 C691.8,291.8 694.7,290.7 696.8,290.2 C698.9,289.7 707.1,286.6 709.4,286.6 C711.7,286.6 715.1,288.1 716.6,290.2 C718.1,292.3 721.8,301.2 722.0,304.6 C722.2,308.0 720.3,316.5 718.4,319.0 C716.5,321.5 708.3,325.6 705.8,326.2 C703.3,326.8 698.3,325.4 696.8,324.4 C695.3,323.3 694.9,317.9 693.2,317.2 C691.5,316.5 684.5,318.5 682.4,318.1 C680.3,317.7 676.7,315.2 675.2,313.6 C673.7,312.0 671.1,306.3 669.8,304.6 C668.5,302.9 666.3,300.0 664.4,299.2 C662.5,298.4 656.5,298.2 653.6,297.4 C650.7,296.6 642.8,293.7 639.2,292.0 C635.6,290.3 626.4,285.1 623.0,283.0 C619.6,280.9 613.5,275.9 610.4,274.0 C607.2,272.1 599.1,268.6 596.0,266.8 C592.9,265.0 585.8,260.4 583.4,258.7 C581.0,257.0 576.3,253.8 575.3,252.4 C574.2,251.0 574.2,248.7 574.4,247.0 Z"/></clipPath>
<path d="M574.4,247.0 C574.6,245.3 575.8,239.6 577.1,238.0 C578.4,236.4 581.9,233.9 585.2,233.5 C588.5,233.1 599.5,233.9 605.0,234.4 C610.5,234.9 626.1,237.1 632.0,238.0 C637.9,238.9 651.2,241.4 655.4,242.5 C659.6,243.6 665.7,246.6 668.0,247.0 C670.3,247.4 672.7,245.3 675.2,246.1 C677.7,246.9 686.9,252.2 689.6,254.2 C692.3,256.2 697.6,261.1 698.6,263.2 C699.6,265.3 699.2,269.9 698.6,272.2 C698.0,274.5 694.0,280.8 693.2,283.0 C692.4,285.2 691.0,290.2 691.4,291.0 C691.8,291.8 694.7,290.7 696.8,290.2 C698.9,289.7 707.1,286.6 709.4,286.6 C711.7,286.6 715.1,288.1 716.6,290.2 C718.1,292.3 721.8,301.2 722.0,304.6 C722.2,308.0 720.3,316.5 718.4,319.0 C716.5,321.5 708.3,325.6 705.8,326.2 C703.3,326.8 698.3,325.4 696.8,324.4 C695.3,323.3 694.9,317.9 693.2,317.2 C691.5,316.5 684.5,318.5 682.4,318.1 C680.3,317.7 676.7,315.2 675.2,313.6 C673.7,312.0 671.1,306.3 669.8,304.6 C668.5,302.9 666.3,300.0 664.4,299.2 C662.5,298.4 656.5,298.2 653.6,297.4 C650.7,296.6 642.8,293.7 639.2,292.0 C635.6,290.3 626.4,285.1 623.0,283.0 C619.6,280.9 613.5,275.9 610.4,274.0 C607.2,272.1 599.1,268.6 596.0,266.8 C592.9,265.0 585.8,260.4 583.4,258.7 C581.0,257.0 576.3,253.8 575.3,252.4 C574.2,251.0 574.2,248.7 574.4,247.0 Z" fill="#232323"/>
<g clip-path="url(#auxclip)">
<path d="M578,240 C600,236 640,241 668,250 L690,258 L694,266" fill="none" stroke="#3b3b3b" stroke-width="5" filter="url(#b1)"/>
<path d="M577,247 L600,249.5 L640,254.5 L664,259.5 L664,266 L640,261 L600,256 L579,254 Z" fill="#4a4a4a" filter="url(#b1)"/>
<line x1="580.0" y1="247.9" x2="581.6" y2="253.9" stroke="#0e0e0e" stroke-width="2.6" stroke-linecap="round"/>
<line x1="585.7" y1="248.7" x2="587.3" y2="254.6" stroke="#0e0e0e" stroke-width="2.6" stroke-linecap="round"/>
<line x1="591.4" y1="249.5" x2="593.0" y2="255.2" stroke="#0e0e0e" stroke-width="2.6" stroke-linecap="round"/>
<line x1="597.1" y1="250.3" x2="598.7" y2="255.9" stroke="#0e0e0e" stroke-width="2.6" stroke-linecap="round"/>
<line x1="602.8" y1="251.1" x2="604.4" y2="256.5" stroke="#0e0e0e" stroke-width="2.6" stroke-linecap="round"/>
<line x1="608.5" y1="251.9" x2="610.1" y2="257.1" stroke="#0e0e0e" stroke-width="2.6" stroke-linecap="round"/>
<line x1="614.2" y1="252.7" x2="615.8" y2="257.8" stroke="#0e0e0e" stroke-width="2.6" stroke-linecap="round"/>
<line x1="619.9" y1="253.5" x2="621.5" y2="258.4" stroke="#0e0e0e" stroke-width="2.6" stroke-linecap="round"/>
<line x1="625.6" y1="254.3" x2="627.2" y2="259.1" stroke="#0e0e0e" stroke-width="2.6" stroke-linecap="round"/>
<line x1="631.3" y1="255.1" x2="632.9" y2="259.8" stroke="#0e0e0e" stroke-width="2.6" stroke-linecap="round"/>
<line x1="637.0" y1="255.9" x2="638.6" y2="260.4" stroke="#0e0e0e" stroke-width="2.6" stroke-linecap="round"/>
<line x1="642.7" y1="256.7" x2="644.3" y2="261.1" stroke="#0e0e0e" stroke-width="2.6" stroke-linecap="round"/>
<line x1="648.4" y1="257.5" x2="650.0" y2="261.7" stroke="#0e0e0e" stroke-width="2.6" stroke-linecap="round"/>
<line x1="654.1" y1="258.3" x2="655.7" y2="262.4" stroke="#0e0e0e" stroke-width="2.6" stroke-linecap="round"/>
<line x1="659.8" y1="259.1" x2="661.4" y2="263.0" stroke="#0e0e0e" stroke-width="2.6" stroke-linecap="round"/>
<path d="M600,266 L630,282 L655,293 L668,296" fill="none" stroke="#3a3a3a" stroke-width="4" filter="url(#b1)"/>
<path d="M676,250 C690,256 697,264 696,272 L690,286" fill="none" stroke="#383838" stroke-width="3" filter="url(#b1)"/>
<path d="M700,292 L712,290 L719,304 L715,318 L704,323 Z" fill="#2e2e2e" filter="url(#b1)"/>
</g>
<path d="M621.5,255.0 C621.9,254.4 632.2,257.3 635.6,258.2 C639.0,259.1 652.4,262.7 655.4,263.6 C658.4,264.5 664.8,266.2 665.5,267.2 C666.2,268.2 662.7,272.9 662.0,274.0 C661.3,275.1 659.9,278.7 658.3,278.6 C656.7,278.5 649.0,274.5 646.4,273.0 C643.8,271.5 634.5,265.8 632.0,264.0 C629.5,262.2 621.1,255.6 621.5,255.0 Z" fill="#fff"/>
</g>
<g id="handle">
<path d="M859.4,82.1 C861.0,80.1 864.8,80.0 866.2,80.4 C867.6,80.8 871.9,85.0 873.0,86.4 C874.1,87.8 877.3,92.2 877.3,94.0 C877.3,95.8 874.1,102.2 873.0,104.2 C871.9,106.2 867.9,113.2 866.2,114.4 C864.5,115.6 857.6,117.9 856.0,116.5 C854.4,115.1 849.7,103.4 850.0,100.0 C850.3,96.6 857.8,84.1 859.4,82.1 Z" fill="#2b2b2b"/>
<path d="M860,82 L866.5,80.6 L873,86.5 L868,86 L862.5,84 Z" fill="#5a5a5a" filter="url(#b1)"/>
<path d="M865,86 C869,93 867,104 861,114" fill="none" stroke="#4a4a4a" stroke-width="2.2" filter="url(#b1)"/>
<clipPath id="hclip"><path d="M727.6,158.6 C727.9,156.8 729.2,152.3 730.2,150.1 C731.2,147.9 734.6,142.5 736.2,139.9 C737.8,137.3 741.7,130.8 743.8,128.0 C745.9,125.2 751.2,118.7 754.0,116.1 C756.8,113.5 764.0,108.2 767.6,105.9 C771.2,103.6 780.8,98.4 784.6,96.6 C788.4,94.8 796.7,92.1 799.9,90.6 C803.1,89.1 809.2,85.1 811.8,83.8 C814.4,82.5 818.8,80.3 822.0,79.6 C825.2,78.9 835.2,77.9 839.0,77.9 C842.8,77.9 851.9,79.0 854.3,79.6 C856.7,80.2 858.2,81.3 859.4,83.0 C860.6,84.7 864.3,91.1 864.5,94.0 C864.7,96.9 862.1,105.0 861.1,107.6 C860.1,110.2 857.2,114.8 856.0,116.1 C854.8,117.4 851.7,117.9 850.9,118.7 C850.1,119.5 850.6,122.2 849.2,122.9 C847.8,123.6 841.0,124.9 839.0,124.6 C837.0,124.3 834.2,121.3 832.2,120.4 C830.2,119.5 824.8,117.1 822.0,117.0 C819.2,116.9 811.2,118.8 808.4,119.5 C805.6,120.2 799.8,121.9 798.2,122.9 C796.6,123.9 795.2,126.4 794.8,128.0 C794.4,129.6 795.6,134.1 794.8,136.5 C794.0,138.9 790.2,146.0 788.0,148.4 C785.8,150.8 778.5,155.7 776.1,156.9 C773.7,158.1 769.2,157.6 767.6,158.6 C766.0,159.6 763.6,164.0 762.5,165.4 C761.4,166.8 758.7,169.1 758.3,170.5 C757.9,171.9 759.6,176.3 759.1,177.3 C758.6,178.3 755.4,179.6 754.0,179.0 C752.6,178.4 749.0,173.4 747.2,172.2 C745.4,171.0 741.0,169.6 738.7,168.8 C736.4,168.0 728.9,166.6 727.6,165.4 C726.4,164.2 727.4,160.4 727.6,158.6 Z"/></clipPath>
<path d="M727.6,158.6 C727.9,156.8 729.2,152.3 730.2,150.1 C731.2,147.9 734.6,142.5 736.2,139.9 C737.8,137.3 741.7,130.8 743.8,128.0 C745.9,125.2 751.2,118.7 754.0,116.1 C756.8,113.5 764.0,108.2 767.6,105.9 C771.2,103.6 780.8,98.4 784.6,96.6 C788.4,94.8 796.7,92.1 799.9,90.6 C803.1,89.1 809.2,85.1 811.8,83.8 C814.4,82.5 818.8,80.3 822.0,79.6 C825.2,78.9 835.2,77.9 839.0,77.9 C842.8,77.9 851.9,79.0 854.3,79.6 C856.7,80.2 858.2,81.3 859.4,83.0 C860.6,84.7 864.3,91.1 864.5,94.0 C864.7,96.9 862.1,105.0 861.1,107.6 C860.1,110.2 857.2,114.8 856.0,116.1 C854.8,117.4 851.7,117.9 850.9,118.7 C850.1,119.5 850.6,122.2 849.2,122.9 C847.8,123.6 841.0,124.9 839.0,124.6 C837.0,124.3 834.2,121.3 832.2,120.4 C830.2,119.5 824.8,117.1 822.0,117.0 C819.2,116.9 811.2,118.8 808.4,119.5 C805.6,120.2 799.8,121.9 798.2,122.9 C796.6,123.9 795.2,126.4 794.8,128.0 C794.4,129.6 795.6,134.1 794.8,136.5 C794.0,138.9 790.2,146.0 788.0,148.4 C785.8,150.8 778.5,155.7 776.1,156.9 C773.7,158.1 769.2,157.6 767.6,158.6 C766.0,159.6 763.6,164.0 762.5,165.4 C761.4,166.8 758.7,169.1 758.3,170.5 C757.9,171.9 759.6,176.3 759.1,177.3 C758.6,178.3 755.4,179.6 754.0,179.0 C752.6,178.4 749.0,173.4 747.2,172.2 C745.4,171.0 741.0,169.6 738.7,168.8 C736.4,168.0 728.9,166.6 727.6,165.4 C726.4,164.2 727.4,160.4 727.6,158.6 Z" fill="#68e128"/>
<g clip-path="url(#hclip)">
<path d="M730.6,164.6 C731.1,163.2 731.8,159.2 733.2,156.1 C734.6,153.0 736.9,149.6 739.2,145.9 C741.5,142.2 743.8,138.0 746.8,134.0 C749.8,130.0 753.0,125.8 757.0,122.1 C761.0,118.4 765.5,115.2 770.6,111.9 C775.7,108.7 782.2,105.1 787.6,102.6 C793.0,100.0 798.4,98.7 802.9,96.6 C807.4,94.5 811.1,91.6 814.8,89.8 C818.5,88.0 820.5,86.6 825.0,85.6 C829.5,84.6 836.6,83.9 842.0,83.9 C847.4,83.9 853.9,84.8 857.3,85.6 C860.7,86.4 861.5,88.4 862.4,89.0" fill="none" stroke="#93f458" stroke-width="9" filter="url(#b2)"/>
<path d="M794.8,128.0 C795.4,129.1 795.5,134.5 794.8,136.5 C794.1,138.5 789.9,146.4 788.0,148.4 C786.1,150.4 778.1,155.9 776.1,156.9 C774.1,157.9 769.2,157.5 767.6,158.6 C766.0,159.7 760.3,168.9 760.0,168.0 C759.7,167.1 763.0,152.8 765.0,150.0 C767.0,147.2 777.6,142.4 780.0,140.0 C782.4,137.6 787.5,127.2 789.0,126.0 C790.5,124.8 794.2,127.0 794.8,128.0 Z" fill="#4cbf1a" filter="url(#b1)"/>
<path d="M769.3,156.5 L791,142 L792.5,137 L772,150 Z" fill="#1d2a12" filter="url(#b1)"/>
<path d="M791,122.5 L796.5,122.5 L797,129 L792,130 Z" fill="#1b2414"/>
</g>
<circle cx="745.5" cy="155.2" r="1.6" fill="#2f8a10"/>
<circle cx="770.2" cy="125.5" r="1.6" fill="#2f8a10"/>
<circle cx="802.8" cy="102.0" r="1.6" fill="#2f8a10"/>
<circle cx="826.3" cy="94.0" r="1.6" fill="#2f8a10"/>
<circle cx="758.3" cy="162.0" r="1.6" fill="#2f8a10"/>
</g>
</g>

<line class="ln" x1="930.8" y1="168.6" x2="541" y2="868"/>
<line class="ln" x1="565" y1="143.6" x2="735" y2="143.6"/>
<line class="ln" x1="462" y1="267.6" x2="593" y2="267.6"/>
<line class="ln" x1="464" y1="478.5" x2="541" y2="478.5"/>
<line class="ln" x1="120" y1="793.8" x2="314" y2="793.8"/>
<line class="ln" x1="383" y1="790" x2="519" y2="790"/>
<polyline class="ln" points="174.5,922.6 236.5,922.6 298,868.4"/>
<line class="ln" x1="420" y1="887.4" x2="481.4" y2="887.4"/>

<text class="lbl" y="77.5"><tspan x="682.6" textLength="103.4" lengthAdjust="spacingAndGlyphs">LITHIUM</tspan> <tspan x="795.9" textLength="110.8" lengthAdjust="spacingAndGlyphs">BATTERY</tspan></text>
<text class="lbl" y="129.1"><tspan x="345.9" textLength="100.7" lengthAdjust="spacingAndGlyphs">DOUBLE</tspan> <tspan x="455.2" textLength="120.4" lengthAdjust="spacingAndGlyphs">CONTROL</tspan> <tspan x="583.6" textLength="101.2" lengthAdjust="spacingAndGlyphs">SWITCH</tspan></text>
<text class="lbl" y="254.9"><tspan x="217.2" textLength="136.9" lengthAdjust="spacingAndGlyphs">ASSISTANT</tspan> <tspan x="363.5" textLength="104.5" lengthAdjust="spacingAndGlyphs">HANDLE</tspan></text>
<text class="lbl" y="472.1"><tspan x="86.5" textLength="102.1" lengthAdjust="spacingAndGlyphs">LENGTH</tspan> <tspan x="204.5" textLength="163.1" lengthAdjust="spacingAndGlyphs">ADJUSTMENT</tspan> <tspan x="378.5" textLength="105.9" lengthAdjust="spacingAndGlyphs">BUTTON</tspan></text>
<text class="lbl" y="720.3"><tspan x="408.3" textLength="70.0" lengthAdjust="spacingAndGlyphs">HEAD</tspan> <tspan x="486.2" textLength="133.3" lengthAdjust="spacingAndGlyphs">ROTATION</tspan></text>
<text class="lbl" y="768.9"><tspan x="463.6" textLength="105.7" lengthAdjust="spacingAndGlyphs">BUTTON</tspan></text>
<text class="lbl" y="757.5"><tspan x="38.4" textLength="113.3" lengthAdjust="spacingAndGlyphs">ELECTRIC</tspan> <tspan x="159.1" textLength="153.8" lengthAdjust="spacingAndGlyphs">MACHINERY</tspan></text>
<text class="lbl" y="906.5"><tspan x="68.3" textLength="57.5" lengthAdjust="spacingAndGlyphs">SAW</tspan> <tspan x="135.8" textLength="80.6" lengthAdjust="spacingAndGlyphs">BLADE</tspan></text>
<text class="lbl" y="897.5"><tspan x="492.8" textLength="92.7" lengthAdjust="spacingAndGlyphs">ROLLER</tspan></text>
<g transform="translate(688.7,701.1) rotate(-60.9)">
<text class="big" y="0"><tspan x="-6" textLength="115.8" lengthAdjust="spacingAndGlyphs">90-120</tspan> <tspan x="118.5" textLength="145" lengthAdjust="spacingAndGlyphs">CM/35.4</tspan><tspan x="265.5" textLength="16" lengthAdjust="spacingAndGlyphs">''</tspan><tspan x="284" textLength="96" lengthAdjust="spacingAndGlyphs">-47.2''</tspan></text>
</g>
<g transform="translate(776,617.5) rotate(-60.9)">
<text class="adj" x="-10.5" y="-3" textLength="182.5" lengthAdjust="spacingAndGlyphs">(ADJUSTABLE)</text>
</g>
</svg>
</body></html>
